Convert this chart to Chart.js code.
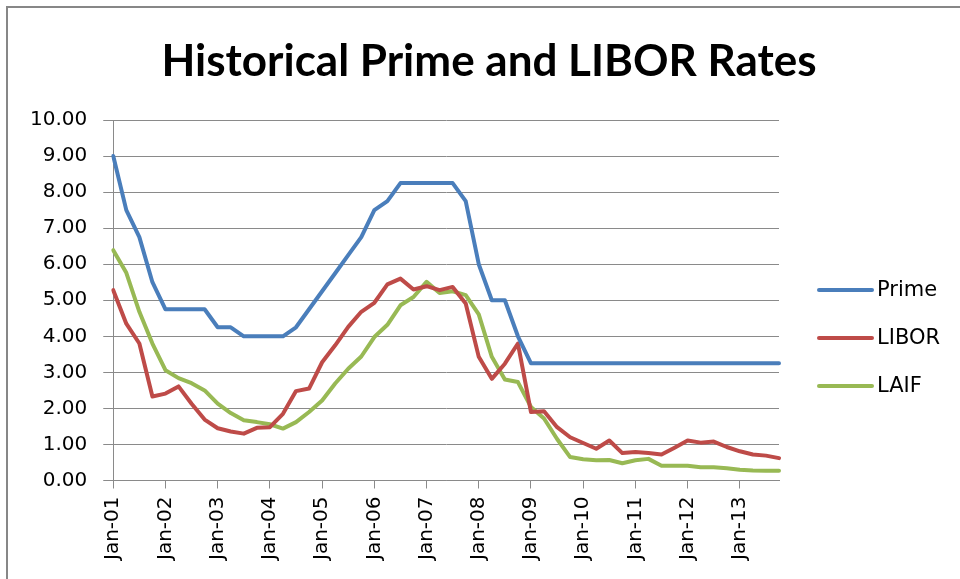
<!DOCTYPE html>
<html>
<head>
<meta charset="utf-8">
<title>Historical Prime and LIBOR Rates</title>
<script src="https://cdn.jsdelivr.net/npm/chart.js@4/dist/chart.umd.min.js"></script>
<style>
  html, body { margin: 0; padding: 0; background: #fff; overflow: hidden; }
  #wrap { position: relative; width: 960px; height: 579px; }
  #frame {
    position: absolute; left: 6px; top: 6px; width: 1200px; height: 800px;
    border-left: 2px solid #878787; border-top: 2px solid #878787;
    pointer-events: none;
  }
  canvas { position: absolute; left: 0; top: 0; }
</style>
</head>
<body>
<div id="wrap">
  <canvas id="chart" width="960" height="579"></canvas>
  <div id="frame"></div>
</div>
<script>
// Quarterly observations, Jan-01 through Oct-13
const quarters = [
  'Jan-01','Apr-01','Jul-01','Oct-01','Jan-02','Apr-02','Jul-02','Oct-02',
  'Jan-03','Apr-03','Jul-03','Oct-03','Jan-04','Apr-04','Jul-04','Oct-04',
  'Jan-05','Apr-05','Jul-05','Oct-05','Jan-06','Apr-06','Jul-06','Oct-06',
  'Jan-07','Apr-07','Jul-07','Oct-07','Jan-08','Apr-08','Jul-08','Oct-08',
  'Jan-09','Apr-09','Jul-09','Oct-09','Jan-10','Apr-10','Jul-10','Oct-10',
  'Jan-11','Apr-11','Jul-11','Oct-11','Jan-12','Apr-12','Jul-12','Oct-12',
  'Jan-13','Apr-13','Jul-13','Oct-13'
];

const prime = [
  9.00, 7.50, 6.75, 5.50, 4.75, 4.75, 4.75, 4.75,
  4.25, 4.25, 4.00, 4.00, 4.00, 4.00, 4.25, 4.75,
  5.25, 5.75, 6.25, 6.75, 7.50, 7.75, 8.25, 8.25,
  8.25, 8.25, 8.25, 7.75, 6.00, 5.00, 5.00, 4.00,
  3.25, 3.25, 3.25, 3.25, 3.25, 3.25, 3.25, 3.25,
  3.25, 3.25, 3.25, 3.25, 3.25, 3.25, 3.25, 3.25,
  3.25, 3.25, 3.25, 3.25
];

const libor = [
  5.28, 4.35, 3.80, 2.33, 2.41, 2.61, 2.13, 1.69,
  1.45, 1.36, 1.30, 1.46, 1.48, 1.85, 2.48, 2.55,
  3.28, 3.75, 4.26, 4.68, 4.93, 5.44, 5.60, 5.30,
  5.39, 5.28, 5.37, 4.91, 3.43, 2.82, 3.24, 3.80,
  1.90, 1.92, 1.48, 1.20, 1.04, 0.88, 1.11, 0.76,
  0.79, 0.76, 0.72, 0.91, 1.11, 1.05, 1.08, 0.93,
  0.81, 0.72, 0.69, 0.62
];

const laif = [
  6.39, 5.76, 4.68, 3.80, 3.06, 2.84, 2.70, 2.50,
  2.13, 1.87, 1.67, 1.62, 1.56, 1.44, 1.62, 1.90,
  2.22, 2.69, 3.10, 3.44, 3.98, 4.32, 4.86, 5.09,
  5.51, 5.20, 5.25, 5.14, 4.61, 3.43, 2.80, 2.73,
  2.04, 1.72, 1.15, 0.65, 0.59, 0.56, 0.57, 0.48,
  0.56, 0.60, 0.41, 0.41, 0.41, 0.37, 0.37, 0.34,
  0.30, 0.28, 0.27, 0.27
];

const seriesNames = ['Prime', 'LIBOR', 'LAIF'];
const seriesColors = ['#4a7ebb', '#be4b48', '#98b954'];
const chartTitle = 'Historical Prime and LIBOR Rates';

const axisFont = { family: "'DejaVu Sans', sans-serif", size: 20 };
const gridGray = '#8a8a8a';

// Title centred over the whole chart box rather than just the plot area
const wideTitle = {
  id: 'wideTitle',
  afterDraw(chart) {
    const { ctx } = chart;
    ctx.save();
    ctx.font = "bold 44px Lato, sans-serif";
    ctx.fillStyle = '#000';
    ctx.textAlign = 'center';
    ctx.textBaseline = 'alphabetic';
    ctx.fillText(chartTitle, 489, 76);
    ctx.restore();
  }
};

// Legend drawn beside the plot, Excel style: short line then the name
const sideLegend = {
  id: 'sideLegend',
  afterDraw(chart) {
    const { ctx, chartArea } = chart;
    const x0 = chartArea.right + 40;
    ctx.save();
    ctx.font = "21px 'DejaVu Sans', sans-serif";
    ctx.textBaseline = 'middle';
    ctx.lineCap = 'round';
    chart.data.datasets.forEach((ds, i) => {
      const y = chartArea.top + 170 + i * 48;
      ctx.strokeStyle = ds.borderColor;
      ctx.lineWidth = 4;
      ctx.beginPath();
      ctx.moveTo(x0, y);
      ctx.lineTo(x0 + 53, y);
      ctx.stroke();
      ctx.fillStyle = '#000';
      ctx.fillText(ds.label, x0 + 58, y + 1);
    });
    ctx.restore();
  }
};

const seriesData = [prime, libor, laif];

new Chart(document.getElementById('chart').getContext('2d'), {
  type: 'line',
  data: {
    labels: quarters,
    datasets: seriesNames.map((name, i) => ({
      label: name,
      data: seriesData[i],
      borderColor: seriesColors[i],
      backgroundColor: seriesColors[i],
      borderWidth: 4,
      pointRadius: 0,
      tension: 0,
      borderJoinStyle: 'round',
      borderCapStyle: 'round'
    }))
  },
  options: {
    responsive: false,
    animation: false,
    layout: { padding: { left: 14, right: 181, top: 120, bottom: 11 } },
    plugins: {
      legend: { display: false },
      tooltip: { enabled: false },
      title: { display: false }
    },
    scales: {
      x: {
        offset: false,
        border: { color: gridGray, width: 1 },
        grid: {
          drawOnChartArea: false,
          tickLength: 8,
          color: c => (c.index % 4 === 0 ? gridGray : 'rgba(0,0,0,0)')
        },
        ticks: {
          autoSkip: false,
          minRotation: 90,
          maxRotation: 90,
          padding: 8,
          color: '#000',
          font: axisFont,
          callback: function (value, index) {
            return index % 4 === 0 ? this.getLabelForValue(value) : '';
          }
        }
      },
      y: {
        min: 0,
        max: 10,
        border: { color: gridGray, width: 1 },
        grid: { color: gridGray, lineWidth: 1, tickLength: 10 },
        ticks: {
          stepSize: 1,
          padding: 16,
          color: '#000',
          font: axisFont,
          callback: v => v.toFixed(2)
        }
      }
    }
  },
  plugins: [wideTitle, sideLegend]
});
</script>
</body>
</html>
